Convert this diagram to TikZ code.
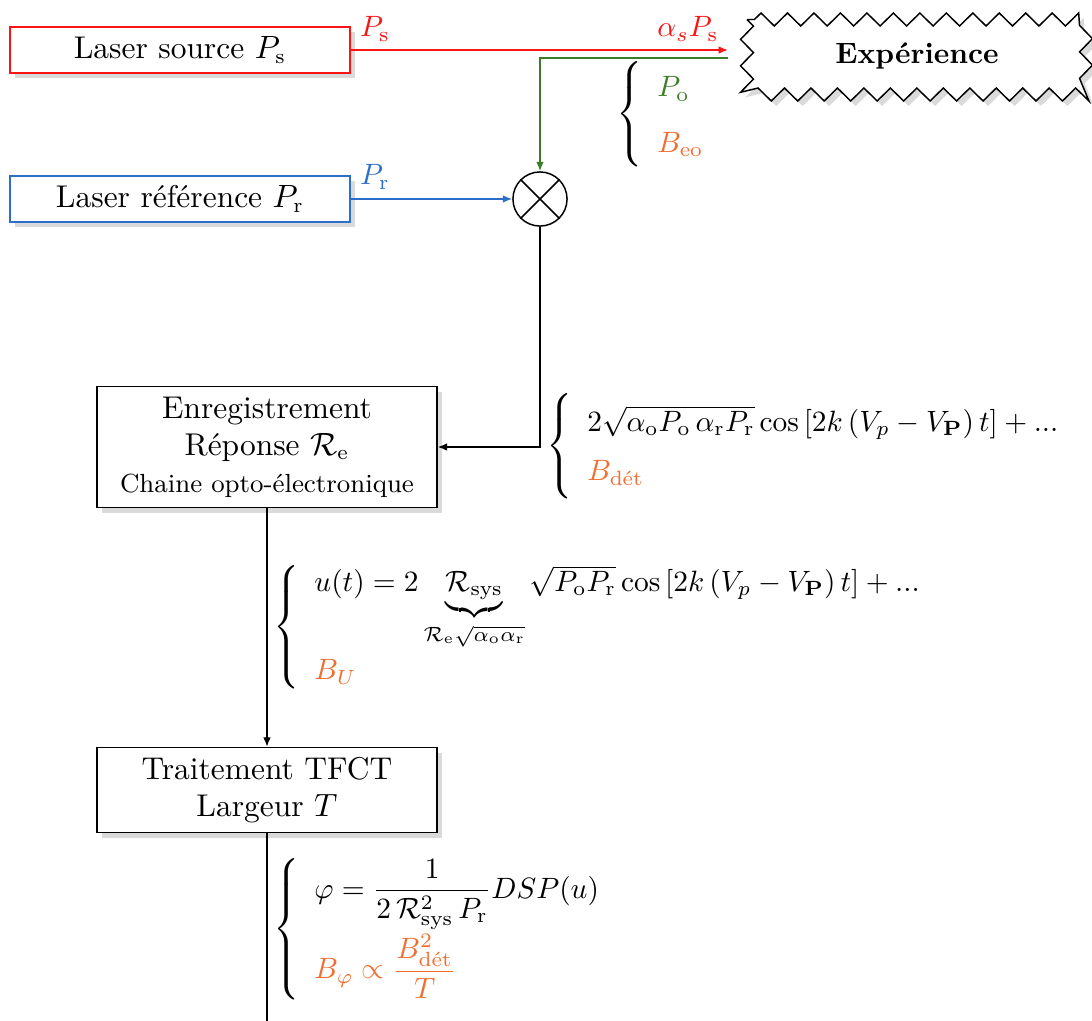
\documentclass[tikz,border=0pt]{standalone}
\usepackage{amsmath,amssymb}
\usetikzlibrary{shadows,decorations.pathmorphing,arrows.meta}
\definecolor{cred}{RGB}{250,20,20}
\definecolor{cblue}{RGB}{45,110,200}
\definecolor{cgreen}{RGB}{60,125,40}
\definecolor{corange}{RGB}{240,110,50}
\definecolor{shadowgray}{RGB}{218,218,218}
\tikzset{
  box/.style={draw, fill=white, line width=0.5pt, minimum width=115.6pt, inner sep=0pt, align=center,
    font=\fontsize{10.7}{12.6}\selectfont,
    drop shadow={fill=shadowgray, opacity=1, shadow xshift=1.8pt, shadow yshift=-1.8pt}},
  conn/.style={line width=0.5pt, -{Latex[length=3.2pt,width=2.6pt]}},
  wire/.style={line width=0.5pt},
  lbl/.style={inner sep=0pt},
  brace/.style={inner sep=0pt, anchor=west},
  zz/.style={decorate, decoration={zigzag, segment length=9pt, amplitude=2.2pt}},
}
\begin{document}
\begin{tikzpicture}[x=0.34pt, y=-0.34pt]
\useasboundingbox (0,0) rectangle (1092,1021);
% boxes
\node[box, draw=cred, minimum height=15.6pt] (src) at (180,50) {Laser source $P_\mathrm{s}$};
\node[box, draw=cblue, minimum height=15.6pt] (ref) at (180,199) {Laser r\'ef\'erence $P_\mathrm{r}$};
\node[box, minimum height=41.1pt] (enr) at (267,447) {Enregistrement\\R\'eponse $\mathcal{R}_\mathrm{e}$\\{\fontsize{8.9}{11}\selectfont Chaine opto-\'electronique}};
\node[box, minimum height=28.9pt] (tfct) at (267,790) {Traitement TFCT\\Largeur $T$};
% experience
\path (747,19.5) coordinate (e1) (1086,94.5) coordinate (e2);
\fill[shadowgray, zz] ([shift={(5,5)}]e1) rectangle ([shift={(5,5)}]e2);
\draw[fill=white, line width=0.5pt, zz] (e1) rectangle (e2);
\node[inner sep=0pt, font=\bfseries] (exp) at (917,56) {Exp\'erience};
% mixer
\node[draw, circle, line width=0.5pt, minimum size=18.4pt, inner sep=0pt] (mix) at (540,199) {};
\draw[line width=0.5pt] (mix.north west) -- (mix.south east) (mix.north east) -- (mix.south west);
% connectors
\coordinate (ain) at (728,50);
\coordinate (gout) at (728,58);
\draw[conn, cred] (src.east) -- (ain);
\draw[conn, cgreen] (gout) -| (mix.north);
\draw[conn, cblue] (ref.east) -- (mix.west);
\draw[conn] (mix.south) |- (enr.east);
\draw[conn] (enr.south) -- (tfct.north);
\coordinate (endl) at (267,1021);
\draw[wire] (tfct.south) -- (endl);
% labels
\node[lbl, text=cred] (lps) at (375,29) {$P_\mathrm{s}$};
\node[lbl, text=cred] (lasps) at (688,29) {$\alpha_s P_\mathrm{s}$};
\node[lbl, text=cblue] (lpr) at (375,177) {$P_\mathrm{r}$};
% braces
\renewcommand{\arraystretch}{1.5}
\node[brace] (b1) at (616,114) {$\left\{\begin{array}{l}
  \color{cgreen}P_\mathrm{o}\\[1pt]
  \color{corange}B_\mathrm{eo}
\end{array}\right.$};
\node[brace] (b2) at (546,446) {\def\arraystretch{1.4}$\left\{\begin{array}{l}
  2\sqrt{\alpha_\mathrm{o} P_\mathrm{o}\,\alpha_\mathrm{r} P_\mathrm{r}}\cos\left[2k\left(V_p - V_\mathbf{P}\right)t\right] + ...\\
  \color{corange}B_\text{d\'et}
\end{array}\right.$};
\node[brace] (b3) at (273,627) {\def\arraystretch{1.2}$\left\{\begin{array}{l}
  u(t) = 2\underbrace{\mathcal{R}_\mathrm{sys}}_{\mathcal{R}_\mathrm{e}\sqrt{\alpha_\mathrm{o}\alpha_\mathrm{r}}}\sqrt{P_\mathrm{o} P_\mathrm{r}}\cos\left[2k\left(V_p - V_\mathbf{P}\right)t\right] + ...\\
  \color{corange}B_U
\end{array}\right.$};
\node[brace] (b4) at (273,929) {$\left\{\begin{array}{l}
  \varphi = \dfrac{1}{2\,\mathcal{R}_\mathrm{sys}^2\,P_\mathrm{r}} DSP(u)\\[7pt]
  \color{corange}B_\varphi \propto \dfrac{B_\text{d\'et}^2}{T}
\end{array}\right.$};
\end{tikzpicture}
\end{document}
